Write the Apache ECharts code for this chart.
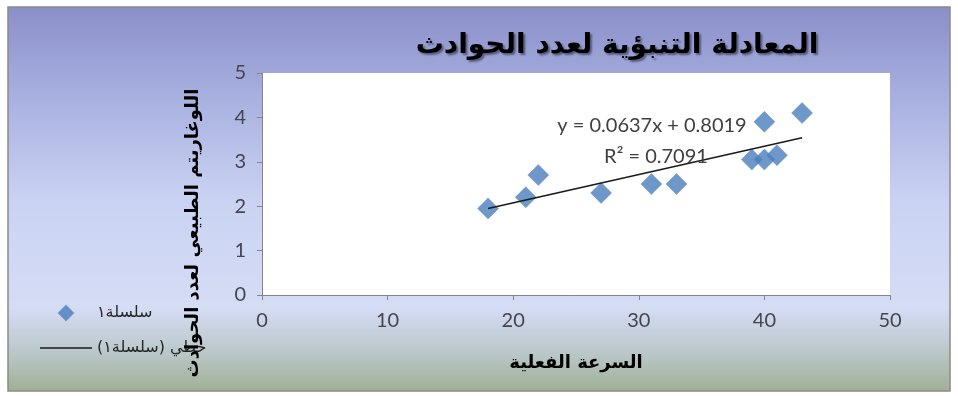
<!DOCTYPE html>
<html>
<head>
<meta charset="utf-8">
<script src="https://cdn.jsdelivr.net/npm/echarts@6/dist/echarts.min.js"></script>
<style>
  html, body { margin: 0; padding: 0; background: #ffffff; }
  #chart { width: 958px; height: 396px; }
</style>
</head>
<body>
<div id="chart"></div>
<script>
// Actual speed (x) and natural log of the accident count (y)
const speed = [18, 21, 22, 27, 31, 33, 39, 40, 41, 40, 43];
const logAccidents = [1.95, 2.2, 2.7, 2.3, 2.5, 2.5, 3.05, 3.05, 3.15, 3.9, 4.1];

// Linear trend reported on the chart
const slope = 0.0637;
const intercept = 0.8019;
const rSquared = 0.7091;

const xTicks = [0, 10, 20, 30, 40, 50];
const yTicks = [0, 1, 2, 3, 4, 5];

const titleText = 'المعادلة التنبؤية لعدد الحوادث';
const xName = 'السرعة الفعلية';
const yName = 'اللوغاريتم الطبيعي لعدد الحوادث';
const seriesName = 'سلسلة١';
const trendName = 'خطي (سلسلة١)';

const points = speed.map((x, i) => [x, logAccidents[i]]);
const xMinData = Math.min(...speed);
const xMaxData = Math.max(...speed);
const trendPoints = [xMinData, xMaxData].map(x => [x, slope * x + intercept]);

const chart = echarts.init(document.getElementById('chart'), null, { renderer: 'canvas' });

const numFont = 'Lato, "Open Sans", sans-serif';
const arFont = '"DejaVu Sans", sans-serif';

chart.setOption({
  animation: false,
  backgroundColor: '#ffffff',
  graphic: [
    {
      type: 'rect', z: -10, silent: true,
      shape: { x: 8, y: 7, width: 942, height: 384 },
      style: {
        fill: new echarts.graphic.LinearGradient(0, 0, 0, 1, [
          { offset: 0, color: '#8a8fc9' },
          { offset: 0.22, color: '#a6aede' },
          { offset: 0.5, color: '#c9d2f2' },
          { offset: 0.78, color: '#d5ddf5' },
          { offset: 0.9, color: '#bac7c8' },
          { offset: 1, color: '#9fb093' }
        ]),
        stroke: '#8a8a8a', lineWidth: 1.5
      }
    },
    {
      type: 'text', z: 10, silent: true,
      x: 617, y: 46,
      style: {
        text: titleText,
        font: 'bold 28px ' + arFont,
        fill: '#000000',
        textAlign: 'center', textVerticalAlign: 'middle',
        textShadowColor: 'rgba(40,40,60,0.6)', textShadowBlur: 2,
        textShadowOffsetX: 2, textShadowOffsetY: 2
      }
    },
    {
      type: 'text', z: 10, silent: true,
      x: 193, y: 233, rotation: Math.PI / 2,
      style: {
        text: yName,
        font: 'bold 18px ' + arFont,
        fill: '#000000',
        textAlign: 'center', textVerticalAlign: 'middle'
      }
    },
    {
      type: 'text', z: 10, silent: true,
      x: 576, y: 363,
      style: {
        text: xName,
        font: 'bold 18px ' + arFont,
        fill: '#000000',
        textAlign: 'center', textVerticalAlign: 'middle'
      }
    },
    {
      type: 'text', z: 10, silent: true,
      x: 652, y: 126,
      style: {
        text: 'y = ' + slope.toFixed(4) + 'x + ' + intercept.toFixed(4),
        font: '20px ' + numFont,
        fill: '#404040',
        textAlign: 'center', textVerticalAlign: 'middle'
      }
    },
    {
      type: 'text', z: 10, silent: true,
      x: 656, y: 157,
      style: {
        text: 'R² = ' + rSquared.toFixed(4),
        font: '20px ' + numFont,
        fill: '#404040',
        textAlign: 'center', textVerticalAlign: 'middle'
      }
    }
  ],
  grid: {
    left: 262, right: 68, top: 73, bottom: 101,
    show: true, backgroundColor: '#ffffff', borderWidth: 0
  },
  legend: {
    orient: 'vertical',
    left: 35, top: 300,
    itemWidth: 52, itemHeight: 14,
    itemGap: 19,
    symbolKeepAspect: true,
    textStyle: { fontFamily: arFont, fontSize: 16, color: '#262626' },
    data: [
      { name: seriesName, icon: 'path://M0,-1L1,0L0,1L-1,0Z' },
      { name: trendName, icon: 'path://M0,0L100,0L100,3L0,3Z' }
    ]
  },
  xAxis: {
    type: 'value',
    min: xTicks[0], max: xTicks[xTicks.length - 1], interval: 10,
    axisLine: { show: true, lineStyle: { color: '#868686', width: 1 } },
    axisTick: { show: true, length: 5, inside: false, lineStyle: { color: '#868686' } },
    axisLabel: { margin: 16, fontFamily: numFont, fontSize: 20, color: '#45454f' },
    splitLine: { show: false }
  },
  yAxis: {
    type: 'value',
    min: yTicks[0], max: yTicks[yTicks.length - 1], interval: 1,
    axisLine: { show: true, lineStyle: { color: '#868686', width: 1 } },
    axisTick: { show: true, length: 5, inside: false, lineStyle: { color: '#868686' } },
    axisLabel: { margin: 16, fontFamily: numFont, fontSize: 20, color: '#45454f' },
    splitLine: { show: false }
  },
  series: [
    {
      name: seriesName,
      type: 'scatter',
      symbol: 'diamond',
      symbolSize: 21,
      itemStyle: { color: '#4a7ebb', borderColor: '#5b8ac4', borderWidth: 0.5 },
      data: points,
      z: 3
    },
    {
      name: trendName,
      type: 'line',
      data: trendPoints,
      showSymbol: false,
      symbol: 'none',
      lineStyle: { color: '#1a1a1a', width: 1.5 },
      itemStyle: { color: '#1a1a1a' },
      z: 4
    }
  ]
});
</script>
</body>
</html>
